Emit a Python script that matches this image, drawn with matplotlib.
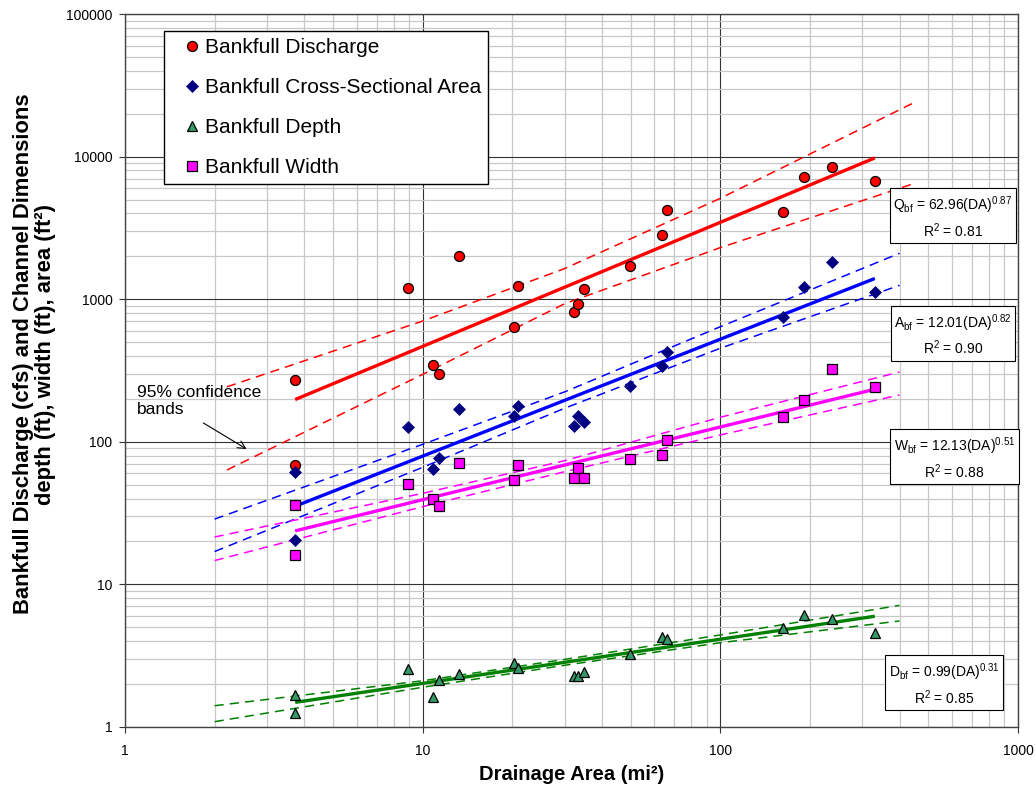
import matplotlib
matplotlib.use("Agg")
import matplotlib.pyplot as plt

plt.rcParams['font.family'] = ['Liberation Sans', 'DejaVu Sans']
plt.rcParams['mathtext.fontset'] = 'custom'
plt.rcParams['mathtext.rm'] = 'Liberation Sans'

# drainage area of the surveyed sites (mi2)
drainage_area = [3.73, 3.73, 8.95, 10.85, 11.37, 13.27, 20.2, 20.85, 32.3, 33.2,
                 34.7, 49.7, 63.5, 66.3, 162.7, 191.3, 236.5, 330.4]

# bankfull values at each site
discharge = [271, 68.7, 1193, 344, 297, 2009, 635, 1243, 809, 921,
             1179, 1709, 2806, 4222, 4086, 7160, 8410, 6710]
area = [61.7, 20.5, 127.6, 64.5, 76.6, 170, 152, 179, 129.7, 151.7,
        137, 247.5, 342, 428, 754, 1212, 1823, 1123]
depth = [1.68, 1.25, 2.54, 1.63, 2.14, 2.35, 2.80, 2.59, 2.28, 2.28,
         2.44, 3.23, 4.26, 4.14, 4.95, 6.07, 5.72, 4.59]
width = [36.0, 16.2, 50.3, 39.7, 35.6, 71.4, 54, 68.8, 56, 65.8,
         55.7, 75.7, 80.8, 103, 150, 196, 322, 243.5]

# regional curves: coefficient and exponent
fit_coef = {'Q': 62.96, 'A': 12.01, 'W': 12.13, 'D': 0.99}
fit_exp = {'Q': 0.87, 'A': 0.82, 'W': 0.51, 'D': 0.31}
fit_r2 = {'Q': 0.81, 'A': 0.90, 'W': 0.88, 'D': 0.85}

# 95% confidence bands
band_da_q = [2.2, 10, 30, 100, 440]
band_da = [2, 10, 30, 100, 400]
q_upper = [243, 703, 1640, 5100, 23500]
q_lower = [63.4, 297, 930, 2300, 6400]
a_upper = [28.7, 96, 224, 641, 2099]
a_lower = [17.0, 66.2, 172, 453, 1251]
w_upper = [21.5, 43.5, 73.7, 148.6, 308.6]
w_lower = [14.7, 35.1, 61.7, 111.7, 213]
d_upper = [1.41, 2.11, 2.98, 4.42, 7.13]
d_lower = [1.09, 1.90, 2.71, 3.90, 5.54]

x_ticks = [1, 10, 100, 1000]
y_ticks = [1, 10, 100, 1000, 10000, 100000]

fig = plt.figure(figsize=(10.36, 7.87), dpi=100)
ax = fig.add_axes([125 / 1036, 1 - 727 / 787, 893 / 1036, 713 / 787])
ax.set_xscale('log')
ax.set_yscale('log')
ax.set_xlim(1, 1000)
ax.set_ylim(1, 100000)

ax.grid(which='minor', color='#c8c8c8', lw=0.9, zorder=0)
ax.grid(which='major', color='#333333', lw=0.8, zorder=0)
ax.set_axisbelow(True)

colors = {'Q': '#ff0000', 'A': '#0000ff', 'W': '#ff00ff', 'D': '#008000'}

def fit_line(key):
    lo, hi = min(drainage_area), max(drainage_area)
    xs = [lo, hi]
    ys = [fit_coef[key] * x ** fit_exp[key] for x in xs]
    ax.plot(xs, ys, color=colors[key], lw=2.4, solid_capstyle='butt', zorder=2)

def bands(key, xs, up, low):
    for ys in (up, low):
        ax.plot(xs, ys, color=colors[key], lw=1.1, dashes=(6, 4), zorder=2)

bands('Q', band_da_q, q_upper, q_lower)
bands('A', band_da, a_upper, a_lower)
bands('W', band_da, w_upper, w_lower)
bands('D', band_da, d_upper, d_lower)
for k in ['Q', 'A', 'W', 'D']:
    fit_line(k)

ax.plot(drainage_area, discharge, 'o', ms=7.2, mfc='#ff0000', mec='black', mew=0.9,
        zorder=3, label='Bankfull Discharge')
ax.plot(drainage_area, area, 'D', ms=6.1, mfc='#000080', mec='#000080', mew=0.5,
        zorder=3, label='Bankfull Cross-Sectional Area')
ax.plot(drainage_area, depth, '^', ms=7.4, mfc='#339966', mec='black', mew=0.9,
        zorder=3, label='Bankfull Depth')
ax.plot(drainage_area, width, 's', ms=6.5, mfc='#ff00ff', mec='black', mew=0.9,
        zorder=3, label='Bankfull Width')

leg = ax.legend(loc='upper left', bbox_to_anchor=(0.0437, 0.976), fontsize=15,
                frameon=True, fancybox=False, framealpha=1, edgecolor='black',
                borderpad=0.35, labelspacing=1.0, handlelength=2.0, handletextpad=-0.4,
                borderaxespad=0)
leg.get_frame().set_linewidth(1.0)

ax.set_xticks(x_ticks)
ax.set_xticklabels([str(v) for v in x_ticks])
ax.set_yticks(y_ticks)
ax.set_yticklabels([str(v) for v in y_ticks])
ax.tick_params(which='major', labelsize=10, length=4, width=0.8, color='#333333')
ax.tick_params(axis='x', pad=8)
ax.tick_params(axis='y', pad=5)
ax.tick_params(which='minor', length=0)
for s in ax.spines.values():
    s.set_color('#444444')
    s.set_linewidth(1.0)

ax.set_xlabel('Drainage Area (mi²)', fontsize=14.5, fontweight='bold', labelpad=5)
fig.text(0.033, 0.55, 'Bankfull Discharge (cfs) and Channel Dimensions\ndepth (ft), width (ft), area (ft²)',
         rotation=90, ha='center', va='center', multialignment='center',
         fontsize=15.8, fontweight='bold', linespacing=1.08)

# equation boxes
box_pos = {'Q': (0.927, 0.715), 'A': (0.927, 0.55), 'W': (0.929, 0.377), 'D': (0.917, 0.060)}
for k in ['Q', 'A', 'W', 'D']:
    txt = (k + r'$_{\mathregular{bf}}$ = ' + '%.2f' % fit_coef[k] +
           r'(DA)$^{\mathregular{%.2f}}$' % fit_exp[k] + '\n' +
           r'R$^{\mathregular{2}}$ = ' + '%.2f' % fit_r2[k])
    ax.text(box_pos[k][0], box_pos[k][1], txt, transform=ax.transAxes, fontsize=10,
            ha='center', va='center', multialignment='center', linespacing=1.3,
            bbox=dict(boxstyle='square,pad=0.25', fc='white', ec='black', lw=0.8), zorder=5)

ax.text(1.097, 194, '95% confidence\nbands', fontsize=12.5, ha='left', va='center',
        linespacing=1.15, zorder=5)
ax.annotate('', xy=(2.61, 86.9), xytext=(1.80, 138.7),
            arrowprops=dict(arrowstyle='->', color='black', lw=0.8, mutation_scale=14), zorder=5)

plt.savefig('out.png', dpi=100)
